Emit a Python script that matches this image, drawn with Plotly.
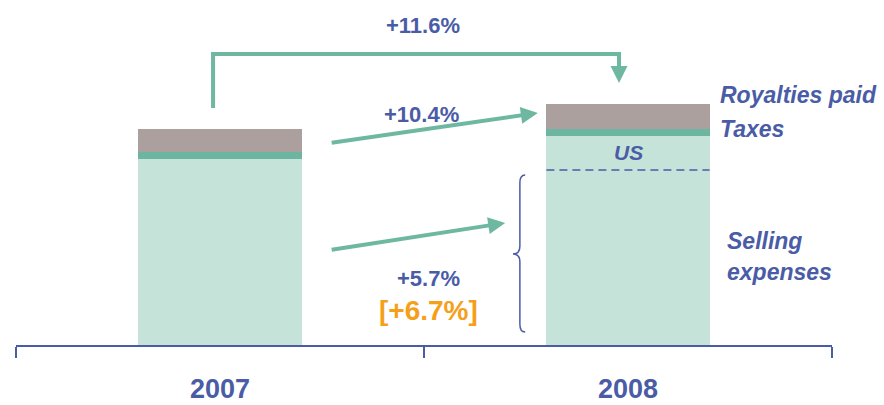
import plotly.graph_objects as go

# Cost breakdown, indexed to 2007 total = 100
years = ["2007", "2008"]
selling_ex_us = [86.0, 81.0]
selling_us = [0.0, 15.8]
taxes = [3.3, 3.2]
royalties = [10.7, 11.6]

growth_total = "+11.6%"
growth_top = "+10.4%"
growth_selling = "+5.7%"
growth_selling_adj = "[+6.7%]"

BLUE = "#4a5ca6"
GREEN = "#6eb8a2"
LIGHT = "#c6e3da"
DARK = "#6cb5a0"
GREY = "#aca09f"
ORANGE = "#f5a01a"
FONT = "Liberation Sans, Arial, sans-serif"

xs = [0, 1]
bw = 0.4
fig = go.Figure()
sell_total = [a + b for a, b in zip(selling_ex_us, selling_us)]
fig.add_trace(go.Bar(x=xs, y=sell_total, width=bw, marker=dict(color=LIGHT, line_width=0),
                     name="Selling expenses"))
fig.add_trace(go.Bar(x=xs, y=taxes, width=bw, marker=dict(color=DARK, line_width=0), name="Taxes"))
fig.add_trace(go.Bar(x=xs, y=royalties, width=bw, marker=dict(color=GREY, line_width=0),
                     name="Royalties paid"))

shapes = []
# dashed split between US and other selling expenses (2008)
shapes.append(dict(type="line", xref="x", yref="y", x0=1 - bw / 2, x1=1 + bw / 2,
                   y0=selling_ex_us[1], y1=selling_ex_us[1],
                   line=dict(color=BLUE, width=1.5, dash="8px,5px")))
# bracket from 2007 to 2008 total
shapes.append(dict(type="path", xref="x", yref="y",
                   path="M -0.017,109.7 L -0.017,134.7 L 0.978,134.7 L 0.978,128",
                   line=dict(color=GREEN, width=4)))
# curly brace next to 2008 selling expenses
bx, bl, br = 0.735, 0.718, 0.748
yt, ym, yb = 78.7, 42.1, 6.0
d = 3.6
brace = (f"M {br},{yt} Q {bx},{yt} {bx},{yt - d} L {bx},{ym + d} "
         f"Q {bx},{ym} {bl},{ym} Q {bx},{ym} {bx},{ym - d} "
         f"L {bx},{yb + d} Q {bx},{yb} {br},{yb}")
shapes.append(dict(type="path", xref="x", yref="y", path=brace,
                   line=dict(color=BLUE, width=1.5)))

ann = []


def arrow(x0, y0, x1, y1):
    ann.append(dict(x=x1, y=y1, ax=x0, ay=y0, xref="x", yref="y", axref="x", ayref="y",
                    showarrow=True, arrowhead=2, arrowsize=0.85, arrowwidth=4,
                    arrowcolor=GREEN, standoff=0, text=""))


arrow(0.978, 130, 0.978, 121.3)
arrow(0.27, 93.5, 0.779, 107.4)
arrow(0.27, 44.0, 0.699, 56.5)


def label(x, y, text, size=22, color=BLUE, xanchor="center", italic=False):
    t = f"<b>{text}</b>"
    if italic:
        t = f"<i>{t}</i>"
    ann.append(dict(x=x, y=y, xref="x", yref="y", text=t, showarrow=False,
                    xanchor=xanchor, yanchor="middle",
                    font=dict(family=FONT, size=size, color=color)))


label(0.4975, 148.1, growth_total)
label(0.495, 106.9, growth_top)
label(0.51, 30.6, growth_selling)
label(0.51, 16.2, growth_selling_adj, size=28, color=ORANGE)
label(1.0, 88.9, "US", size=21, italic=True)
label(1.2206, 115.7, "Royalties paid", size=23, xanchor="left", italic=True)
label(1.2206, 100.0, "Taxes", size=23, xanchor="left", italic=True)
label(1.2377, 48.1, "Selling", size=23, xanchor="left", italic=True)
label(1.2377, 33.8, "expenses", size=23, xanchor="left", italic=True)

for x, yr in zip(xs, years):
    ann.append(dict(x=x, y=-0.127, xref="x", yref="paper", text=f"<b>{yr}</b>",
                    showarrow=False, yanchor="middle",
                    font=dict(family=FONT, size=27, color=BLUE)))

fig.update_layout(
    barmode="stack",
    width=884, height=405,
    margin=dict(l=16, r=52, t=0, b=60),
    paper_bgcolor="white", plot_bgcolor="white",
    showlegend=False,
    shapes=shapes, annotations=ann,
    xaxis=dict(range=[-0.5, 1.5], tickvals=[-0.5, 0.5, 1.5], ticktext=["", "", ""],
               showline=True, linecolor=BLUE, linewidth=1.5, ticks="outside",
               ticklen=11, tickcolor=BLUE, tickwidth=1.5, showgrid=False, zeroline=False),
    yaxis=dict(range=[0, 159.72], visible=False, showgrid=False),
)

fig.write_html("out.html")
